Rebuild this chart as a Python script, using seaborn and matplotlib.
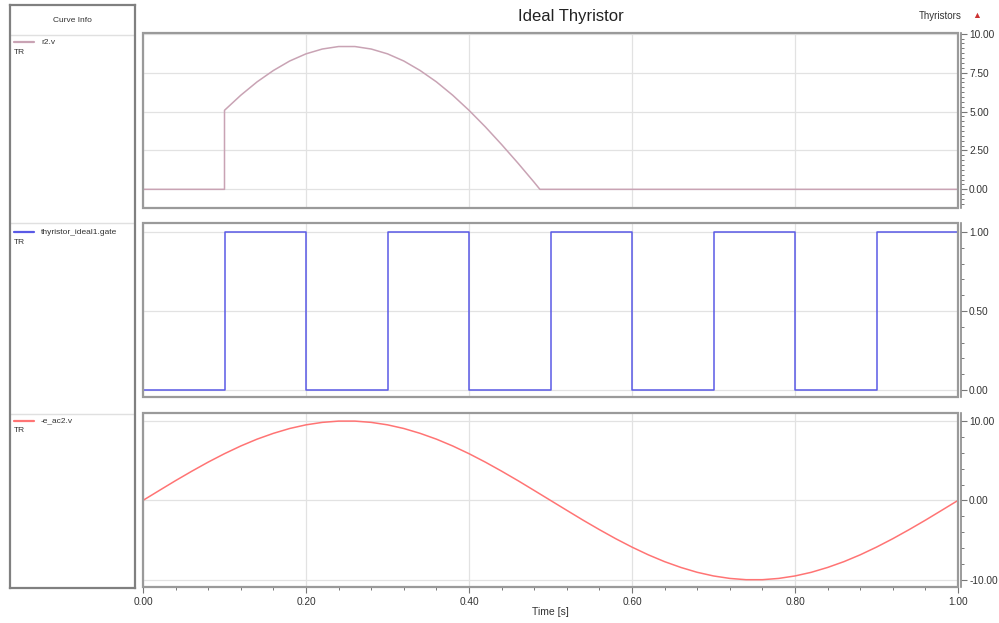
import matplotlib
matplotlib.use("Agg")
import matplotlib.pyplot as plt
import seaborn as sns
from matplotlib.patches import Rectangle
from matplotlib.ticker import MultipleLocator, FormatStrFormatter

# --- data ---
r2_t = [0.0, 0.1, 0.1, 0.12, 0.14, 0.16, 0.18, 0.2, 0.22, 0.24, 0.26, 0.28, 0.3,
        0.32, 0.34, 0.36, 0.38, 0.4, 0.42, 0.44, 0.46, 0.48, 0.487, 1.0]
r2_v = [0.0, 0.0, 5.08, 6.05, 6.91, 7.64, 8.25, 8.71, 9.02, 9.18, 9.18, 9.02, 8.71,
        8.25, 7.64, 6.91, 6.05, 5.08, 4.02, 2.88, 1.69, 0.45, 0.0, 0.0]

gate_t = [0.0, 0.1, 0.2, 0.3, 0.4, 0.5, 0.6, 0.7, 0.8, 0.9, 1.0]
gate_v = [0, 1, 0, 1, 0, 1, 0, 1, 0, 1, 1]

eac_t = [0.0, 0.02, 0.04, 0.06, 0.08, 0.1, 0.12, 0.14, 0.16, 0.18, 0.2, 0.22, 0.24,
         0.26, 0.28, 0.3, 0.32, 0.34, 0.36, 0.38, 0.4, 0.42, 0.44, 0.46, 0.48, 0.5,
         0.52, 0.54, 0.56, 0.58, 0.6, 0.62, 0.64, 0.66, 0.68, 0.7, 0.72, 0.74,
         0.76, 0.78, 0.8, 0.82, 0.84, 0.86, 0.88, 0.9, 0.92, 0.94, 0.96, 0.98, 1.0]
eac_v = [0.0, 1.25, 2.49, 3.68, 4.82, 5.88, 6.85, 7.71, 8.44, 9.05, 9.51, 9.82, 9.98,
         9.98, 9.82, 9.51, 9.05, 8.44, 7.71, 6.85, 5.88, 4.82, 3.68, 2.49, 1.25, 0.0,
         -1.25, -2.49, -3.68, -4.82, -5.88, -6.85, -7.71, -8.44, -9.05, -9.51, -9.82, -9.98,
         -9.98, -9.82, -9.51, -9.05, -8.44, -7.71, -6.85, -5.88, -4.82, -3.68, -2.49, -1.25, 0.0]

names = ["r2.v", "thyristor_ideal1.gate", "-e_ac2.v"]
colors = ["#c9a3b4", "#5a5ae6", "#ff7474"]

sns.set_theme(style="white")
plt.rcParams['font.family'] = ['Liberation Sans', 'DejaVu Sans']

W, H = 999, 623
fig = plt.figure(figsize=(W / 100, H / 100), dpi=100)


def px_axes(left, top, right, bottom):
    return fig.add_axes([left / W, 1 - bottom / H, (right - left) / W, (bottom - top) / H])


panels = [
    dict(box=(143, 33, 958, 208), t=r2_t, v=r2_v, ylim=(-1.2, 10.05), major=2.5, minor=2.5 / 8, steps=False),
    dict(box=(143, 223, 958, 397), t=gate_t, v=gate_v, ylim=(-0.044, 1.057), major=0.5, minor=0.1, steps=True),
    dict(box=(143, 413, 958, 587), t=eac_t, v=eac_v, ylim=(-10.9, 11.0), major=10, minor=2, steps=False),
]

for i, p in enumerate(panels):
    ax = px_axes(*p['box'])
    kw = dict(drawstyle='steps-post') if p['steps'] else {}
    sns.lineplot(x=p['t'], y=p['v'], ax=ax, color=colors[i], linewidth=1.1,
                 sort=False, estimator=None, **kw)
    ax.set_xlim(0, 1)
    ax.set_ylim(*p['ylim'])
    ax.yaxis.tick_right()
    ax.yaxis.set_major_locator(MultipleLocator(p['major']))
    ax.yaxis.set_minor_locator(MultipleLocator(p['minor']))
    ax.yaxis.set_major_formatter(FormatStrFormatter('%.2f'))
    ax.xaxis.set_major_locator(MultipleLocator(0.2))
    ax.xaxis.set_minor_locator(MultipleLocator(0.04))
    ax.grid(True, which='major', color='#e2e2e2', linewidth=0.9)
    ax.set_axisbelow(True)
    ax.tick_params(axis='y', which='major', right=True, length=4, width=0.8, color='#777777',
                   labelsize=7.3, labelcolor='#333333', pad=1.5)
    ax.tick_params(axis='y', which='minor', right=True, length=2.5, width=0.7, color='#777777')

    # frame drawn as a patch, value axis offset to the right like the original
    for s in ax.spines.values():
        s.set_visible(False)
    ax.add_patch(Rectangle((0, 0), 1, 1, transform=ax.transAxes, fill=False,
                           edgecolor='#9a9a9a', linewidth=1.6, clip_on=False, zorder=5))
    ax.spines['right'].set_visible(True)
    ax.spines['right'].set_position(('outward', 2.5))
    ax.spines['right'].set_color('#8a8a8a')
    ax.spines['right'].set_linewidth(1.2)

    if i < 2:
        ax.tick_params(axis='x', which='both', bottom=False, labelbottom=False)
    else:
        ax.spines['bottom'].set_visible(True)
        ax.spines['bottom'].set_color('#8a8a8a')
        ax.spines['bottom'].set_linewidth(1.2)
        ax.tick_params(axis='x', which='major', bottom=True, length=4, width=0.8, color='#777777',
                       labelsize=7.3, labelcolor='#333333', pad=3)
        ax.tick_params(axis='x', which='minor', bottom=True, length=2.5, width=0.7, color='#777777')
        ax.xaxis.set_major_formatter(FormatStrFormatter('%.2f'))
        ax.set_xlabel("Time [s]", fontsize=7.5, color='#333333', labelpad=0)

# --- curve info panel ---
info = px_axes(10, 5, 135, 588)
info.set_xlim(10, 135)
info.set_ylim(588, 5)
info.set_xticks([])
info.set_yticks([])
for s in info.spines.values():
    s.set_color('#808080')
    s.set_linewidth(1.6)
info.text(72, 20, "Curve Info", ha='center', va='center', fontsize=6, color='#333333')
for yl in [35, 223, 414]:
    info.plot([10, 135], [yl, yl], color='#e0e0e0', linewidth=1)
for i, yl in enumerate([42, 232, 421]):
    info.plot([14, 34], [yl, yl], color=colors[i], linewidth=1.6)
    info.text(41, yl, names[i], ha='left', va='center', fontsize=6, color='#333333')
    info.text(14, yl + 10, "TR", ha='left', va='center', fontsize=6, color='#333333')

fig.text(571 / W, 1 - 16 / H, "Ideal Thyristor", ha='center', va='center', fontsize=12, color='#222222')
fig.text(962 / W, 1 - 16 / H, "Thyristors", ha='right', va='center', fontsize=7, color='#333333')
fig.text(977 / W, 1 - 15 / H, "\u25B2", ha='center', va='center', fontsize=6.5, color='#cc3333')

fig.savefig("out.png", dpi=100)
